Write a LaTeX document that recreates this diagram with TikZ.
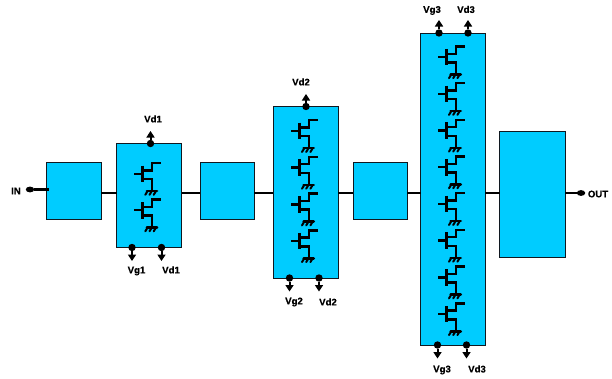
\documentclass[tikz,border=0pt]{standalone}
\usepackage{fontspec}
\setmainfont[BoldFeatures={FakeBold=0.35}]{Liberation Sans}
\usetikzlibrary{arrows.meta,shapes.geometric}
\definecolor{cyanfill}{HTML}{00CCFF}
\definecolor{edgecol}{HTML}{101820}
\tikzset{
  block/.style={draw=edgecol,fill=cyanfill,line width=0.9pt,inner sep=0pt,outer sep=0pt},
  wire/.style={line width=1.8pt,black},
  dotpin/.style={circle,fill=black,inner sep=0pt,outer sep=0pt,minimum size=7.4pt},
  enddot/.style={ellipse,fill=black,inner sep=0pt,outer sep=0pt,minimum width=8.5pt,minimum height=5.8pt},
  pinarrow/.style={line width=2pt,-{Triangle[width=8pt,length=6.5pt]}},
  lab/.style={font=\fontsize{9.6}{11}\selectfont\bfseries,inner sep=0pt},
  fet/.pic={
    \draw[line width=2.4pt,black,line cap=butt,line join=miter]
      (0,11.7) -- (8.3,11.7)
      (17.7,8.3) -- (17.7,1) -- (26.5,1)
      (8.3,8.3) -- (18.9,8.3)
      (8.3,17) -- (17.7,17) -- (17.7,28.5);
    \draw[line width=2.8pt,black] (8.3,3.5) -- (8.3,20);
    \draw[line width=2.4pt,black,line cap=round] (12.5,29) -- (22.8,29);
    \draw[line width=2pt,black,line cap=round]
      (13,29.5) -- (11,32.8)
      (17.2,29.5) -- (15.2,32.8)
      (21.4,29.5) -- (19.4,32.8);
  }
}
\begin{document}
\begin{tikzpicture}[x=1pt,y=-1pt]
\useasboundingbox (0,0) rectangle (612,378);
\coordinate (bus) at (0,193);
% blocks
\node[block,minimum width=55pt,minimum height=57pt] (b1) at (73.5,190.5) {};
\node[block,minimum width=65pt,minimum height=104pt] (a1) at (149,195.5) {};
\node[block,minimum width=54pt,minimum height=57pt] (b2) at (227,190.5) {};
\node[block,minimum width=65pt,minimum height=171.5pt] (a2) at (305.5,192.25) {};
\node[block,minimum width=54pt,minimum height=57pt] (b3) at (380,190.5) {};
\node[block,minimum width=64.5pt,minimum height=312pt] (a3) at (452.75,189) {};
\node[block,minimum width=65.5pt,minimum height=125.5pt] (b4) at (532.25,194.25) {};
% connectors between blocks
\draw[wire] (b1.east|-bus) -- (a1.west|-bus);
\draw[wire] (a1.east|-bus) -- (b2.west|-bus);
\draw[wire] (b2.east|-bus) -- (a2.west|-bus);
\draw[wire] (a2.east|-bus) -- (b3.west|-bus);
\draw[wire] (b3.east|-bus) -- (a3.west|-bus);
\draw[wire] (a3.east|-bus) -- (b4.west|-bus);
% input / output
\node[enddot] (indot) at (30,189.5) {};
\coordinate (inend) at (49,189.5);
\draw[wire,line width=2.2pt] (indot) -- (inend);
\node[lab] (inlab) at (16,191) {IN};
\node[enddot] (outdot) at (581,193) {};
\draw[wire,line width=2.2pt] (b4.east|-bus) -- (outdot);
\node[lab] (outlab) at (598,194) {OUT};
% transistors
\foreach \y [count=\i] in {162,198.5} \pic (fa\i) at (134.3,\y) {fet};
\foreach \y [count=\i] in {119.2,155.9,192.6,229.3} \pic (fb\i) at (291,\y) {fet};
\foreach \i in {0,...,7} \pic (fc\i) at (438,45.4+36.7*\i) {fet};
% pins: name, x, y, arrow end y
\foreach \n/\x/\y/\e in {p1/150.5/143.5/131,p2/132/247.5/261,p3/161.5/247.5/261,
  p4/306/106.5/94,p5/289.5/278/291.5,p6/319/278/291.5,
  p7/439/33/20,p8/468/33/20,p9/437.5/345/358.5,p10/466.5/345/358.5}{
  \node[dotpin] (\n) at (\x,\y) {};
  \coordinate (\n e) at (\x,\e);
  \draw[pinarrow] (\n) -- (\n e);
}
% labels
\node[lab] (l1) at (153,119) {Vd1};
\node[lab] (l2) at (136.5,271) {Vg1};
\node[lab] (l3) at (171,270) {Vd1};
\node[lab] (l4) at (301,82) {Vd2};
\node[lab] (l5) at (294,302) {Vg2};
\node[lab] (l6) at (328,302) {Vd2};
\node[lab] (l7) at (432,10.5) {Vg3};
\node[lab] (l8) at (466,9.5) {Vd3};
\node[lab] (l9) at (442,370) {Vg3};
\node[lab] (l10) at (477,369) {Vd3};
\end{tikzpicture}
\end{document}
